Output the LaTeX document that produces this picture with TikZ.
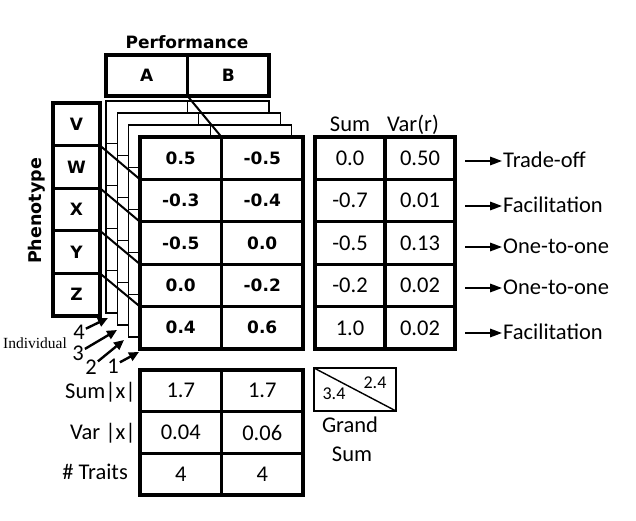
\documentclass[tikz,border=0pt]{standalone}
\usepackage{fontspec}
\setmainfont{Carlito}
\newfontfamily\dvs{DejaVu Sans}
\newfontfamily\tms{Liberation Serif}
\usetikzlibrary{arrows.meta,calc}
\newcommand\fBold{\dvs\bfseries\fontsize{17}{19}\selectfont}
\newcommand\fReg{\fontsize{22.5}{25}\selectfont}
\newcommand\fSmallReg{\fontsize{18}{20}\selectfont}
\newcommand\fSerif{\tms\fontsize{15.5}{17}\selectfont}
\begin{document}
\begin{tikzpicture}[x=1pt,y=-1pt,
  cellbase/.style={draw, fill=white, inner sep=0pt, outer sep=0pt},
  fcell/.style={cellbase, line width=3.1pt, minimum width=81.5pt, minimum height=42.4pt, font=\fBold},
  hcell/.style={cellbase, line width=3.1pt, minimum width=81.5pt, minimum height=41pt, font=\fBold},
  pcell/.style={cellbase, line width=3.1pt, minimum width=47pt, minimum height=42.6pt, font=\fBold},
  rcell/.style={cellbase, line width=3.1pt, minimum width=70pt, minimum height=42.4pt, font=\fReg},
  bcell/.style={cellbase, line width=3.1pt, minimum width=81.5pt, minimum height=41.67pt, font=\fReg},
  layer/.style={line width=1.3pt},
  diag/.style={line width=2pt},
  resarrow/.style={line width=1.6pt, -{Triangle[length=12pt,width=8.5pt]}},
  indarrow/.style={line width=2.4pt, -{Triangle[length=10pt,width=9pt]}},
  txt/.style={inner sep=1pt, font=\fReg},
]
\useasboundingbox (0,0) rectangle (636,521);

% title
\node[font=\dvs\bfseries\fontsize{17}{19}\selectfont] (perf) at (187,42) {Performance};
\node[hcell] (hA) at (146.75,75.5) {A};
\node[hcell] (hB) at (228.25,75.5) {B};

% back layers
\foreach \k in {0,1,2} {
  \pgfmathsetmacro\ox{106+11.333*\k}
  \pgfmathsetmacro\oy{101+12*\k}
  \filldraw[layer, fill=white] (\ox,\oy) rectangle ++(163,212);
  \draw[layer] (\ox+81.5,\oy) -- ++(0,212);
  \foreach \r in {1,...,4} \draw[layer] (\ox,\oy+42.4*\r) -- ++(163,0);
}

% phenotype column
\node[rotate=90, font=\dvs\bfseries\fontsize{17.5}{19}\selectfont] (phen) at (37,211) {Phenotype};
\node[pcell] (pV) at (76.5,124.3) {V};
\node[pcell] (pW) at (76.5,166.9) {W};
\node[pcell] (pX) at (76.5,209.5) {X};
\node[pcell] (pY) at (76.5,252.1) {Y};
\node[pcell] (pZ) at (76.5,294.7) {Z};

% front matrix
\node[fcell] (f11) at (180.75,158.2) {0.5};
\node[fcell] (f12) at (262.25,158.2) {-0.5};
\node[fcell] (f21) at (180.75,200.6) {-0.3};
\node[fcell] (f22) at (262.25,200.6) {-0.4};
\node[fcell] (f31) at (180.75,243.0) {-0.5};
\node[fcell] (f32) at (262.25,243.0) {0.0};
\node[fcell] (f41) at (180.75,285.4) {0.0};
\node[fcell] (f42) at (262.25,285.4) {-0.2};
\node[fcell] (f51) at (180.75,327.8) {0.4};
\node[fcell] (f52) at (262.25,327.8) {0.6};

% diagonals
\draw[diag] (hA.south east) -- (f11.north east);
\draw[diag] (pV.south east) -- (f11.south west);
\draw[diag] (pW.south east) -- (f21.south west);
\draw[diag] (pX.south east) -- (f31.south west);
\draw[diag] (pY.south east) -- (f41.south west);

% right table
\node[txt, anchor=base] (hsum) at (350,132) {Sum};
\node[txt, anchor=base] (hvar) at (413,132) {Var(r)};
\node[rcell] (r11) at (350,158.2) {0.0};
\node[rcell] (r12) at (420,158.2) {0.50};
\node[rcell] (r21) at (350,200.6) {-0.7};
\node[rcell] (r22) at (420,200.6) {0.01};
\node[rcell] (r31) at (350,243.0) {-0.5};
\node[rcell] (r32) at (420,243.0) {0.13};
\node[rcell] (r41) at (350,285.4) {-0.2};
\node[rcell] (r42) at (420,285.4) {0.02};
\node[rcell] (r51) at (350,327.8) {1.0};
\node[rcell] (r52) at (420,327.8) {0.02};

% result labels
\node[txt, anchor=west] (l1) at (502,160) {Trade-off};
\node[txt, anchor=west] (l2) at (502,205) {Facilitation};
\node[txt, anchor=west] (l3) at (502,246) {One-to-one};
\node[txt, anchor=west] (l4) at (502,287) {One-to-one};
\node[txt, anchor=west] (l5) at (502,332) {Facilitation};
\coordinate (a1) at (465,161);
\coordinate (a2) at (465,206);
\coordinate (a3) at (465,247);
\coordinate (a4) at (465,288);
\coordinate (a5) at (465,333);
\draw[resarrow] (a1) -- (a1 -| l1.west);
\draw[resarrow] (a2) -- (a2 -| l2.west);
\draw[resarrow] (a3) -- (a3 -| l3.west);
\draw[resarrow] (a4) -- (a4 -| l4.west);
\draw[resarrow] (a5) -- (a5 -| l5.west);

% individuals
\node[font=\fSerif, inner sep=1pt] (indiv) at (35,343) {Individual};
\node[txt] (n4) at (79,332) {4};
\node[txt] (n3) at (78,353) {3};
\node[txt] (n2) at (91,367) {2};
\node[txt] (n1) at (113,366) {1};
\coordinate (t4) at (108,318);
\coordinate (t3) at (117,330);
\coordinate (t2) at (124,340);
\coordinate (t1) at (139,352);
\draw[indarrow] (n4) -- (t4);
\draw[indarrow] (n3) -- (t3);
\draw[indarrow] (n2) -- (t2);
\draw[indarrow] (n1) -- (t1);

% bottom table
\node[txt, anchor=east] (bs) at (137,392) {Sum|x|};
\node[txt, anchor=east] (bv) at (137,433) {Var |x|};
\node[txt, anchor=east] (bt) at (129,472) {\# Traits};
\node[bcell] (b11) at (180.75,390.8) {1.7};
\node[bcell] (b12) at (262.25,390.8) {1.7};
\node[bcell] (b21) at (180.75,432.5) {0.04};
\node[bcell] (b22) at (262.25,432.5) {0.06};
\node[bcell] (b31) at (180.75,474.2) {4};
\node[bcell] (b32) at (262.25,474.2) {4};

% grand sum
\node[draw, line width=2.2pt, minimum width=82pt, minimum height=43pt, inner sep=0pt, outer sep=0pt] (gs) at (355,389.5) {};
\draw[line width=1.4pt] (gs.north west) -- (gs.south east);
\node[font=\fSmallReg, inner sep=1pt] (g24) at (375,383) {2.4};
\node[font=\fSmallReg, inner sep=1pt] (g34) at (334,394) {3.4};
\node[txt] (gr) at (350,425) {Grand};
\node[txt] (gsum) at (352,454) {Sum};
\end{tikzpicture}
\end{document}
